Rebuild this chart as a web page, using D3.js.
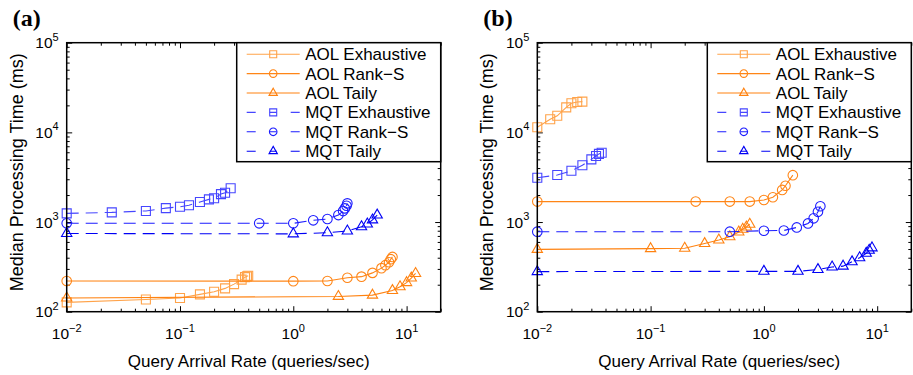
<!DOCTYPE html>
<html>
<head>
<meta charset="utf-8">
<script src="https://cdn.jsdelivr.net/npm/d3@7"></script>
<style>
	body { margin: 0; background: #fff; }
	svg text { font-family: "Liberation Sans", Arial, Helvetica, sans-serif; fill: #000; }
	svg .panel-tag { font-family: "Liberation Serif", "Times New Roman", serif; font-weight: bold; }
</style>
</head>
<body>
<div id="chart"></div>
<script>

// series shared by both panels
var seriesNames = ["AOL Exhaustive", "AOL Rank\u2212S", "AOL Taily", "MQT Exhaustive", "MQT Rank\u2212S", "MQT Taily"];

// axis ticks (powers of ten, exponent shown as superscript)
var rateTicks = [0.01, 0.1, 1, 10];
var rateTickExps = ["\u22122", "\u22121", "0", "1"];
var timeTicks = [100, 1000, 10000, 100000];
var timeTickExps = ["2", "3", "4", "5"];

// panel (a): arrival rate (queries/sec) and median time (ms)
var aolExhRateA = [0.01, 0.05, 0.1, 0.15, 0.2, 0.25, 0.3, 0.35, 0.375, 0.39, 0.4];
var aolExhTimeA = [127, 137, 142, 156, 167, 182, 203, 228, 243, 248, 252];
var aolRankRateA = [0.01, 1, 2, 3, 4, 5, 6, 6.5, 7, 7.25, 7.5];
var aolRankTimeA = [220, 219, 220, 239, 246, 271, 306, 330, 356, 385, 408];
var aolTailyRateA = [0.01, 2.5, 5, 7.5, 8.75, 10, 11, 12];
var aolTailyTimeA = [142, 148, 153, 172, 190, 211, 237, 267];
var mqtExhRateA = [0.01, 0.025, 0.05, 0.075, 0.1, 0.12, 0.15, 0.18, 0.2, 0.23, 0.25, 0.28];
var mqtExhTimeA = [1250, 1280, 1330, 1430, 1480, 1540, 1670, 1790, 1840, 2050, 2120, 2380];
var mqtRankRateA = [0.01, 0.5, 1, 1.5, 2, 2.5, 2.75, 2.85, 2.95, 3.0];
var mqtRankTimeA = [968, 968, 968, 1045, 1080, 1195, 1325, 1420, 1520, 1615];
var mqtTailyRateA = [0.01, 1, 2, 3, 4, 4.5, 5, 5.5];
var mqtTailyTimeA = [745, 738, 760, 795, 885, 950, 1055, 1195];

// panel (b)
var aolExhRateB = [0.01, 0.013, 0.015, 0.018, 0.02, 0.0225, 0.025];
var aolExhTimeB = [11400, 14000, 15300, 19000, 21100, 21800, 22000];
var aolRankRateB = [0.01, 0.25, 0.5, 0.75, 1, 1.2, 1.45, 1.55, 1.8];
var aolRankTimeB = [1690, 1690, 1690, 1690, 1760, 1890, 2280, 2540, 3330];
var aolTailyRateB = [0.01, 0.1, 0.2, 0.3, 0.4, 0.5, 0.6, 0.65, 0.7, 0.75];
var aolTailyTimeB = [495, 505, 510, 575, 630, 685, 775, 830, 880, 945];
var mqtExhRateB = [0.01, 0.015, 0.02, 0.025, 0.03, 0.033, 0.035, 0.037];
var mqtExhTimeB = [3120, 3340, 3730, 4300, 5000, 5450, 5750, 5930];
var mqtRankRateB = [0.01, 0.5, 1, 1.5, 1.95, 2.45, 2.75, 3, 3.15];
var mqtRankTimeB = [780, 780, 800, 805, 870, 965, 1100, 1300, 1500];
var mqtTailyRateB = [0.01, 1, 2, 3, 4, 5, 6, 7, 8, 8.5, 9];
var mqtTailyTimeB = [280, 282, 282, 295, 315, 322, 360, 400, 448, 485, 515];

// styling per series
var seriesColors = ["#ffa34a", "#ff8516", "#ff8210", "#4646ff", "#1c1cff", "#0000f5"];
var seriesSymbols = [d3.symbolSquare, d3.symbolCircle, d3.symbolTriangle, d3.symbolSquare, d3.symbolCircle, d3.symbolTriangle];
var seriesDashed = [false, false, false, true, true, true];


PerfPanel = function(_svg, _tag, _left, _rates, _times) {
	this.svg = _svg;
	this.tag = _tag;
	this.left = _left;
	this.rates = _rates;
	this.times = _times;

	this.initVis();
}

PerfPanel.prototype.initVis = function() {
	var vis = this;

	vis.margin = { top: 42.7, left: vis.left };
	vis.width = 374;
	vis.height = 269;

	vis.g = vis.svg.append("g")
		.attr("transform", "translate(" + vis.margin.left + "," + vis.margin.top + ")");

	vis.x = d3.scaleLog().domain([0.01, 20]).range([0, vis.width]);
	vis.y = d3.scaleLog().domain([100, 100000]).range([vis.height, 0]);

	vis.wrangleData();
}

PerfPanel.prototype.wrangleData = function() {
	var vis = this;

	// zip rate/time arrays into points per series
	vis.series = seriesNames.map(function(name, i) {
		return {
			name: name,
			color: seriesColors[i],
			symbol: seriesSymbols[i],
			dashed: seriesDashed[i],
			points: vis.rates[i].map(function(r, j) { return { rate: r, time: vis.times[i][j] }; })
		};
	});

	vis.updateVis();
}

PerfPanel.prototype.updateVis = function() {
	var vis = this;

	var isMajor = function(d) {
		var l = Math.log10(d);
		return Math.abs(l - Math.round(l)) < 1e-6;
	};
	var minorX = vis.x.ticks().filter(function(d) { return !isMajor(d); });
	var minorY = vis.y.ticks().filter(function(d) { return !isMajor(d); });

	// ticks on all four sides, pointing inwards
	var sides = [
		{ axis: d3.axisBottom(vis.x), t: "translate(0," + vis.height + ")", minor: minorX, major: rateTicks },
		{ axis: d3.axisTop(vis.x), t: "translate(0,0)", minor: minorX, major: rateTicks },
		{ axis: d3.axisLeft(vis.y), t: "translate(0,0)", minor: minorY, major: timeTicks },
		{ axis: d3.axisRight(vis.y), t: "translate(" + vis.width + ",0)", minor: minorY, major: timeTicks }
	];
	sides.forEach(function(s) {
		vis.g.append("g").attr("class", "axis minor").attr("transform", s.t)
			.call(s.axis.tickValues(s.minor).tickSize(-3).tickSizeOuter(0).tickFormat(""))
			.call(function(g) { g.select(".domain").remove(); g.selectAll("text").remove(); });
		vis.g.append("g").attr("class", "axis major").attr("transform", s.t)
			.call(s.axis.tickValues(s.major).tickSize(-5.5).tickSizeOuter(0).tickFormat(""))
			.call(function(g) { g.select(".domain").remove(); g.selectAll("text").remove(); });
	});
	vis.g.selectAll(".axis line").attr("stroke", "#000").attr("stroke-width", 1);

	// tick labels as 10 with superscript exponent
	var xLabels = vis.g.append("g").attr("class", "x-labels").attr("text-anchor", "middle");
	rateTicks.forEach(function(d, i) {
		var t = xLabels.append("text")
			.attr("x", vis.x(d))
			.attr("y", vis.height + 27.5)
			.attr("font-size", 15.5);
		t.append("tspan").text("10");
		t.append("tspan").attr("font-size", 11).attr("dy", -7.5).text(rateTickExps[i]);
	});

	var yLabels = vis.g.append("g").attr("class", "y-labels").attr("text-anchor", "end");
	timeTicks.forEach(function(d, i) {
		var t = yLabels.append("text")
			.attr("x", -8)
			.attr("y", vis.y(d) + 5.5)
			.attr("font-size", 15.5);
		t.append("tspan").text("10");
		t.append("tspan").attr("font-size", 11).attr("dy", -7.5).text(timeTickExps[i]);
	});

	// lines
	var line = d3.line()
		.x(function(d) { return vis.x(d.rate); })
		.y(function(d) { return vis.y(d.time); });

	var groups = vis.g.selectAll(".series").data(vis.series).enter().append("g").attr("class", "series");

	groups.append("path")
		.attr("d", function(d) { return line(d.points); })
		.attr("fill", "none")
		.attr("stroke", function(d) { return d.color; })
		.attr("stroke-width", 1.1)
		.attr("stroke-dasharray", function(d) { return d.dashed ? "12,7" : null; });

	groups.each(function(s) {
		var sym = d3.symbol().type(s.symbol)
			.size(s.symbol === d3.symbolSquare ? 81 : (s.symbol === d3.symbolCircle ? 72 : 46));
		d3.select(this).selectAll(".mark").data(s.points).enter().append("path")
			.attr("class", "mark")
			.attr("transform", function(d) { return "translate(" + vis.x(d.rate) + "," + vis.y(d.time) + ")"; })
			.attr("d", sym)
			.attr("fill", "none")
			.attr("stroke", s.color)
			.attr("stroke-width", 1.1);
	});

	// axes box
	vis.g.append("rect")
		.attr("width", vis.width)
		.attr("height", vis.height)
		.attr("fill", "none")
		.attr("stroke", "#000")
		.attr("stroke-width", 1.5);

	// axis titles
	vis.g.append("text")
		.attr("x", vis.width / 2 - 5)
		.attr("y", vis.height + 55)
		.attr("text-anchor", "middle")
		.attr("font-size", 17)
		.text("Query Arrival Rate (queries/sec)");

	vis.g.append("text")
		.attr("transform", "translate(-44," + (vis.height / 2 - 5) + ") rotate(-90)")
		.attr("text-anchor", "middle")
		.attr("font-size", 18)
		.text("Median Processing Time (ms)");

	vis.g.append("text")
		.attr("class", "panel-tag")
		.attr("x", -54)
		.attr("y", -17)
		.attr("font-size", 24)
		.text(vis.tag);

	// legend in the top right corner
	var legW = 204, legH = 119;
	var legend = vis.g.append("g").attr("transform", "translate(" + (vis.width - legW) + ",0)");
	legend.append("rect")
		.attr("width", legW)
		.attr("height", legH)
		.attr("fill", "#fff")
		.attr("stroke", "#000")
		.attr("stroke-width", 1.5);

	var rows = legend.selectAll(".row").data(vis.series).enter().append("g")
		.attr("class", "row")
		.attr("transform", function(d, i) { return "translate(0," + (11.5 + i * 19.4) + ")"; });

	rows.append("line")
		.attr("x1", 10).attr("x2", 63)
		.attr("stroke", function(d) { return d.color; })
		.attr("stroke-width", 1.1)
		.attr("stroke-dasharray", function(d) { return d.dashed ? "9,14,7,14,9" : null; });

	rows.append("path")
		.attr("transform", "translate(36.5,0)")
		.attr("d", function(d) {
			return d3.symbol().type(d.symbol)
				.size(d.symbol === d3.symbolSquare ? 49 : (d.symbol === d3.symbolCircle ? 45 : 30))();
		})
		.attr("fill", "none")
		.attr("stroke", function(d) { return d.color; })
		.attr("stroke-width", 1.1);

	rows.append("text")
		.attr("x", 68.5)
		.attr("y", 6)
		.attr("font-size", 17)
		.text(function(d) { return d.name; });
}

var svg = d3.select("#chart").append("svg")
	.attr("width", 913)
	.attr("height", 375);

new PerfPanel(svg, "(a)", 66.7,
	[aolExhRateA, aolRankRateA, aolTailyRateA, mqtExhRateA, mqtRankRateA, mqtTailyRateA],
	[aolExhTimeA, aolRankTimeA, aolTailyTimeA, mqtExhTimeA, mqtRankTimeA, mqtTailyTimeA]);

new PerfPanel(svg, "(b)", 537.3,
	[aolExhRateB, aolRankRateB, aolTailyRateB, mqtExhRateB, mqtRankRateB, mqtTailyRateB],
	[aolExhTimeB, aolRankTimeB, aolTailyTimeB, mqtExhTimeB, mqtRankTimeB, mqtTailyTimeB]);

</script>
</body>
</html>
